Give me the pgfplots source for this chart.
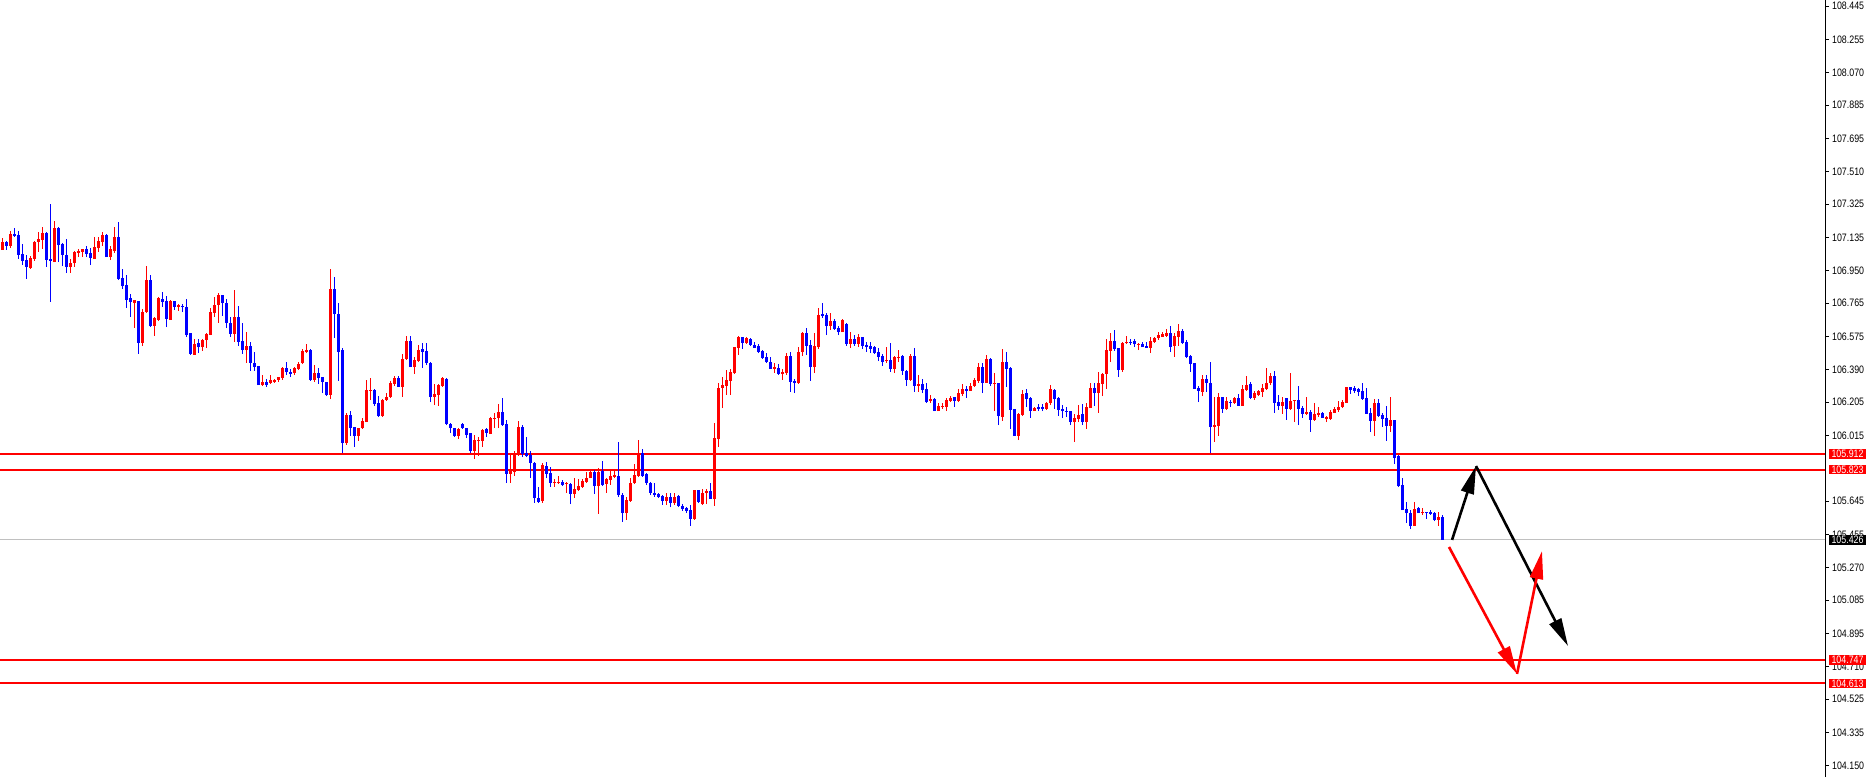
\documentclass[border=0pt]{standalone}
\usepackage{fontspec}
\usepackage{pgfplots}
\usepackage{pgfplotstable}
\pgfplotsset{compat=1.18}
\usetikzlibrary{arrows.meta}
\newfontfamily\tickfont{Liberation Sans}[FakeStretch=0.82]
\newcommand\pricefont{\tickfont\fontsize{5.4}{6}\selectfont}

% candles: i open high low close, one table per colour
\pgfplotstableread{
i o h l c
0 107.065 107.133 107.065 107.110
2 107.088 107.173 107.076 107.156
7 106.963 107.031 106.958 107.020
8 107.014 107.116 107.003 107.110
9 107.110 107.167 107.054 107.127
10 107.122 107.195 107.071 107.161
13 106.997 107.229 106.997 107.190
17 106.969 107.014 106.935 106.991
18 106.991 107.059 106.969 107.054
19 107.048 107.071 107.025 107.059
20 107.054 107.071 107.025 107.071
23 107.014 107.139 107.014 107.082
24 107.076 107.139 107.054 107.116
25 107.110 107.167 107.088 107.150
27 107.025 107.088 107.008 107.071
28 107.059 107.195 107.048 107.139
33 106.765 106.782 106.624 106.782
35 106.539 106.731 106.522 106.714
36 106.714 106.974 106.709 106.895
38 106.635 106.686 106.579 106.680
39 106.669 106.799 106.663 106.794
42 106.669 106.782 106.669 106.777
44 106.743 106.760 106.720 106.754
48 106.471 106.562 106.471 106.533
50 106.516 106.562 106.494 106.556
51 106.556 106.596 106.511 106.590
52 106.584 106.737 106.584 106.714
53 106.709 106.799 106.686 106.754
54 106.754 106.822 106.652 106.810
58 106.590 106.839 106.545 106.686
61 106.499 106.601 106.426 106.522
65 106.301 106.358 106.296 106.318
67 106.313 106.358 106.307 106.330
68 106.318 106.335 106.313 106.330
69 106.330 106.347 106.318 106.347
70 106.341 106.403 106.330 106.398
73 106.369 106.403 106.358 106.398
74 106.392 106.431 106.386 106.420
75 106.426 106.505 106.420 106.494
76 106.488 106.533 106.482 106.499
78 106.330 106.415 106.318 106.369
82 106.245 106.958 106.222 106.844
86 105.973 106.143 105.962 106.132
89 106.013 106.058 105.985 106.058
90 106.058 106.115 106.053 106.098
91 106.092 106.330 106.092 106.273
92 106.268 106.341 106.217 106.273
95 106.126 106.222 106.121 106.217
96 106.217 106.256 106.211 106.234
97 106.234 106.324 106.228 106.313
98 106.307 106.352 106.296 106.341
100 106.290 106.477 106.234 106.448
101 106.448 106.579 106.443 106.550
103 106.403 106.460 106.364 106.443
104 106.437 106.528 106.431 106.499
108 106.234 106.307 106.188 106.251
109 106.245 106.307 106.183 106.301
110 106.296 106.347 106.290 106.341
114 106.013 106.058 105.996 106.053
118 105.928 106.019 105.883 105.990
119 105.985 106.008 105.900 105.990
120 105.985 106.053 105.951 106.047
122 106.024 106.121 106.024 106.115
123 106.109 106.143 106.058 106.115
124 106.115 106.194 106.058 106.149
127 105.798 105.917 105.747 105.815
128 105.809 105.928 105.787 105.911
129 105.911 106.098 105.900 106.064
135 105.645 105.860 105.634 105.849
138 105.747 105.770 105.725 105.753
139 105.747 105.787 105.742 105.753
141 105.742 105.753 105.691 105.747
143 105.685 105.775 105.662 105.713
144 105.708 105.770 105.702 105.730
145 105.725 105.770 105.719 105.758
146 105.753 105.809 105.747 105.775
147 105.775 105.821 105.775 105.809
149 105.730 105.832 105.572 105.809
151 105.742 105.775 105.691 105.770
152 105.764 105.826 105.736 105.787
153 105.781 105.826 105.775 105.792
156 105.577 105.668 105.538 105.651
157 105.645 105.775 105.640 105.747
158 105.747 105.855 105.742 105.792
159 105.787 105.990 105.781 105.917
166 105.645 105.691 105.623 105.668
168 105.634 105.691 105.623 105.668
173 105.544 105.708 105.538 105.708
175 105.628 105.713 105.623 105.691
176 105.691 105.713 105.628 105.702
178 105.657 106.087 105.617 106.002
179 105.996 106.313 105.951 106.285
180 106.285 106.347 106.171 106.301
181 106.296 106.386 106.245 106.330
182 106.324 106.392 106.245 106.375
183 106.369 106.516 106.364 106.516
184 106.511 106.579 106.471 106.573
186 106.539 106.573 106.533 106.567
193 106.392 106.426 106.369 106.403
195 106.364 106.392 106.330 106.375
196 106.369 106.482 106.358 106.465
199 106.313 106.516 106.307 106.488
200 106.488 106.601 106.465 106.596
203 106.403 106.596 106.369 106.522
204 106.516 106.737 106.505 106.697
207 106.635 106.709 106.613 106.663
210 106.601 106.675 106.601 106.669
212 106.533 106.601 106.511 106.562
214 106.533 106.590 106.516 106.573
221 106.437 106.516 106.426 106.443
223 106.392 106.465 106.369 106.460
224 106.454 106.499 106.431 106.460
227 106.330 106.477 106.324 106.465
229 106.296 106.358 106.262 106.307
232 106.211 106.245 106.200 106.222
234 106.154 106.200 106.154 106.183
235 106.177 106.200 106.166 106.183
236 106.177 106.228 106.154 106.217
237 106.211 106.239 106.205 106.228
239 106.211 106.279 106.205 106.256
240 106.251 106.307 106.239 106.279
242 106.268 106.313 106.268 106.296
243 106.296 106.341 106.290 106.330
244 106.324 106.426 106.313 106.403
246 106.313 106.471 106.313 106.448
248 106.307 106.369 106.154 106.313
250 106.121 106.505 106.098 106.431
254 106.013 106.143 105.990 106.138
255 106.132 106.273 106.126 106.251
258 106.154 106.177 106.154 106.171
261 106.166 106.205 106.160 106.200
262 106.200 106.301 106.188 106.279
268 106.092 106.138 105.979 106.115
269 106.109 106.188 106.092 106.132
271 106.092 106.200 106.053 106.177
272 106.171 106.313 106.171 106.285
274 106.256 106.375 106.143 106.313
275 106.307 106.369 106.239 106.364
276 106.364 106.562 106.279 106.499
277 106.494 106.596 106.431 106.550
280 106.386 106.545 106.375 106.539
281 106.539 106.579 106.533 106.545
284 106.528 106.539 106.499 106.533
287 106.511 106.573 106.482 106.550
288 106.545 106.573 106.539 106.567
289 106.567 106.601 106.556 106.584
290 106.573 106.601 106.573 106.590
291 106.579 106.618 106.573 106.596
293 106.522 106.596 106.460 106.579
294 106.573 106.646 106.522 106.607
300 106.262 106.358 106.239 106.335
303 106.064 106.234 105.979 106.075
304 106.070 106.256 106.013 106.234
306 106.166 106.234 106.160 106.211
308 106.200 106.234 106.194 106.228
310 106.183 106.301 106.183 106.279
311 106.273 106.352 106.268 106.301
313 106.228 106.268 106.217 106.256
314 106.245 106.273 106.239 106.268
315 106.262 106.307 106.234 106.285
316 106.279 106.398 106.273 106.313
317 106.313 106.369 106.301 106.352
320 106.183 106.234 106.138 106.205
322 106.166 106.369 106.160 106.211
323 106.211 106.217 106.092 106.217
326 106.138 106.234 106.132 106.149
328 106.104 106.200 106.098 106.138
329 106.132 106.177 106.121 106.143
331 106.109 106.126 106.092 106.121
332 106.109 106.160 106.104 106.149
333 106.143 106.177 106.143 106.166
334 106.160 106.211 106.149 106.177
335 106.177 106.217 106.171 106.205
336 106.200 106.290 106.200 106.290
343 106.098 106.222 106.013 106.200
347 106.070 106.234 106.036 106.104
353 105.504 105.640 105.504 105.600
355 105.577 105.606 105.566 105.583
359 105.538 105.583 105.504 105.555
}\upc

\pgfplotstableread{
i o h l c
1 107.110 107.116 107.065 107.088
3 107.156 107.190 107.139 107.144
4 107.150 107.173 107.014 107.037
5 107.042 107.099 106.980 107.003
6 107.008 107.037 106.901 106.969
11 107.161 107.167 106.969 107.008
12 107.014 107.325 106.771 107.003
14 107.190 107.195 106.997 107.093
15 107.099 107.105 106.974 107.037
16 107.037 107.127 106.935 106.969
21 107.071 107.088 107.025 107.042
22 107.048 107.076 106.980 107.020
26 107.150 107.156 107.025 107.025
29 107.139 107.223 106.895 106.901
30 106.907 106.958 106.844 106.861
31 106.867 106.924 106.737 106.782
32 106.794 106.816 106.686 106.771
34 106.777 106.777 106.477 106.539
37 106.895 106.924 106.629 106.635
40 106.788 106.827 106.743 106.771
41 106.777 106.805 106.629 106.675
43 106.777 106.777 106.726 106.743
45 106.748 106.760 106.714 106.743
46 106.743 106.788 106.573 106.584
47 106.596 106.596 106.471 106.477
49 106.539 106.562 106.482 106.516
55 106.810 106.810 106.692 106.765
56 106.765 106.788 106.624 106.652
57 106.652 106.686 106.573 106.590
59 106.686 106.748 106.522 106.545
60 106.550 106.652 106.477 106.499
62 106.522 106.545 106.381 106.426
63 106.426 106.488 106.381 106.403
64 106.409 106.409 106.301 106.301
66 106.318 106.335 106.290 106.301
71 106.398 106.431 106.358 106.375
72 106.375 106.392 106.347 106.364
77 106.499 106.505 106.324 106.330
79 106.369 106.398 106.307 106.341
80 106.347 106.347 106.256 106.318
81 106.318 106.318 106.239 106.245
83 106.844 106.912 106.567 106.703
84 106.703 106.765 106.324 106.488
85 106.499 106.511 105.917 105.973
87 106.132 106.154 106.013 106.058
88 106.064 106.064 105.951 106.013
93 106.273 106.279 106.183 106.194
94 106.200 106.239 106.121 106.126
99 106.341 106.352 106.290 106.290
102 106.550 106.579 106.403 106.403
105 106.505 106.539 106.398 106.488
106 106.494 106.539 106.415 106.426
107 106.426 106.431 106.205 106.234
111 106.335 106.341 106.075 106.081
112 106.081 106.087 106.030 106.058
113 106.058 106.058 106.008 106.013
115 106.081 106.087 106.053 106.058
116 106.058 106.058 106.002 106.019
117 106.030 106.030 105.917 105.928
121 106.053 106.058 106.008 106.030
125 106.149 106.228 106.070 106.075
126 106.081 106.104 105.747 105.798
130 106.064 106.075 105.894 105.911
131 105.917 106.008 105.894 105.900
132 105.906 105.928 105.775 105.860
133 105.860 105.866 105.634 105.662
134 105.662 105.725 105.634 105.640
136 105.843 105.866 105.775 105.798
137 105.804 105.838 105.725 105.747
140 105.753 105.764 105.730 105.736
142 105.742 105.747 105.628 105.685
148 105.809 105.821 105.685 105.730
150 105.815 105.872 105.730 105.736
154 105.787 105.979 105.668 105.679
155 105.679 105.691 105.527 105.577
160 105.917 105.940 105.781 105.787
161 105.798 105.804 105.736 105.747
162 105.747 105.753 105.679 105.691
163 105.691 105.747 105.668 105.679
164 105.685 105.691 105.662 105.668
165 105.674 105.679 105.623 105.645
167 105.668 105.691 105.611 105.634
169 105.674 105.679 105.611 105.617
170 105.617 105.628 105.589 105.600
171 105.606 105.611 105.577 105.589
172 105.594 105.623 105.504 105.544
174 105.708 105.708 105.634 105.640
177 105.702 105.747 105.657 105.657
185 106.573 106.573 106.505 106.539
187 106.562 106.567 106.522 106.528
188 106.528 106.545 106.511 106.511
189 106.522 106.533 106.482 106.488
190 106.494 106.499 106.448 106.454
191 106.460 106.482 106.426 106.431
192 106.431 106.460 106.392 106.392
194 106.398 106.420 106.358 106.364
197 106.465 106.488 106.262 106.318
198 106.324 106.335 106.256 106.313
201 106.596 106.624 106.471 106.522
202 106.528 106.556 106.324 106.403
205 106.703 106.765 106.680 106.692
206 106.697 106.709 106.584 106.635
208 106.663 106.675 106.613 106.618
209 106.624 106.635 106.584 106.601
211 106.646 106.652 106.522 106.533
213 106.562 106.584 106.522 106.533
215 106.573 106.573 106.505 106.522
216 106.528 106.545 106.488 106.516
217 106.522 106.545 106.482 106.505
218 106.516 106.522 106.477 106.482
219 106.488 106.511 106.437 106.460
220 106.465 106.477 106.409 106.431
222 106.443 106.539 106.375 106.392
225 106.465 106.471 106.358 106.381
226 106.381 106.386 106.296 106.330
228 106.465 106.511 106.262 106.296
230 106.307 106.335 106.256 106.273
231 106.279 106.313 106.200 106.205
233 106.222 106.228 106.154 106.154
238 106.234 106.234 106.177 106.211
241 106.279 106.296 106.228 106.268
245 106.403 106.426 106.256 106.313
247 106.448 106.454 106.296 106.307
249 106.313 106.313 106.075 106.126
251 106.431 106.488 106.290 106.392
252 106.398 106.403 106.053 106.160
253 106.166 106.166 106.013 106.013
256 106.256 106.279 106.177 106.222
257 106.228 106.234 106.115 106.154
259 106.177 106.194 106.154 106.166
260 106.177 106.194 106.154 106.166
263 106.273 106.279 106.166 106.222
264 106.228 106.234 106.126 106.160
265 106.166 106.188 106.115 106.154
266 106.154 106.177 106.121 106.149
267 106.154 106.154 106.075 106.092
270 106.138 106.194 106.075 106.092
273 106.285 106.313 106.183 106.256
278 106.550 106.613 106.494 106.505
279 106.511 106.511 106.347 106.386
282 106.545 106.562 106.528 106.539
283 106.550 106.562 106.516 106.533
285 106.533 106.545 106.516 106.516
286 106.522 106.545 106.511 106.511
292 106.596 106.635 106.488 106.516
295 106.607 106.618 106.533 106.539
296 106.545 106.556 106.454 106.460
297 106.465 106.471 106.375 106.420
298 106.426 106.426 106.279 106.279
299 106.285 106.296 106.205 106.268
301 106.335 106.358 106.262 106.313
302 106.313 106.431 105.917 106.064
305 106.234 106.234 106.143 106.166
307 106.205 106.217 106.177 106.200
309 106.228 106.251 106.183 106.183
312 106.307 106.318 106.222 106.228
318 106.352 106.381 106.143 106.200
319 106.205 106.245 106.160 106.183
321 106.228 106.228 106.104 106.166
324 106.217 106.296 106.075 106.166
325 106.171 106.183 106.115 106.138
327 106.149 106.160 106.036 106.104
330 106.143 106.149 106.115 106.115
337 106.290 106.290 106.251 106.273
338 106.285 106.296 106.256 106.268
339 106.279 106.285 106.239 106.262
340 106.268 106.313 106.217 106.222
341 106.228 106.285 106.138 106.138
342 106.143 106.171 106.036 106.098
344 106.200 106.222 106.121 106.126
345 106.132 106.143 106.064 106.109
346 106.115 106.183 105.985 106.070
348 106.104 106.104 105.855 105.889
349 105.900 105.906 105.725 105.730
350 105.736 105.775 105.594 105.594
351 105.600 105.640 105.521 105.577
352 105.577 105.594 105.487 105.504
354 105.606 105.611 105.577 105.577
356 105.583 105.583 105.544 105.577
357 105.583 105.594 105.566 105.572
358 105.577 105.583 105.532 105.538
360 105.555 105.566 105.426 105.426
}\downc

\tikzset{pricebox/.style={anchor=west, text=white, font=\pricefont,
  inner xsep=1pt, inner ysep=0pt, minimum height=4.85pt, minimum width=18.5pt, xshift=1.8pt}}
\pgfplotsset{candle/.style={draw=none, mark=none, forget plot,
  error bars/.cd, y dir=plus, y explicit, error mark=none,
  error bar style={line cap=butt, #1}}}

\begin{document}
\begin{tikzpicture}
\begin{axis}[
  width=912.5pt, height=388.5pt, scale only axis,
  xmin=-0.5, xmax=455.75,
  ymin=104.084, ymax=108.479,
  axis x line=none,
  axis y line=right,
  axis line style={-, line width=0.5pt},
  tick align=outside,
  major tick length=2pt,
  ytick style={line width=0.5pt, black},
  ytick={104.150,104.335,104.525,104.710,104.895,105.085,105.270,105.455,105.645,106.015,106.205,106.390,106.575,106.765,106.950,107.135,107.325,107.510,107.695,107.885,108.070,108.255,108.445},
  yticklabels={104.150,104.335,104.525,104.710,104.895,105.085,105.270,105.455,105.645,106.015,106.205,106.390,106.575,106.765,106.950,107.135,107.325,107.510,107.695,107.885,108.070,108.255,108.445},
  yticklabel style={font=\pricefont, anchor=west, xshift=-2pt},
  clip=false,
]
% current price and support lines
\addplot[color={rgb,255:red,192;green,192;blue,192}, line width=0.5pt] coordinates {(-0.5,105.426) (455.75,105.426)};
\addplot[red, line width=1pt] coordinates {(-0.5,105.912) (455.75,105.912)};
\addplot[red, line width=1pt] coordinates {(-0.5,105.823) (455.75,105.823)};
\addplot[red, line width=1pt] coordinates {(-0.5,104.747) (455.75,104.747)};
\addplot[red, line width=1pt] coordinates {(-0.5,104.613) (455.75,104.613)};

% wicks
\addplot[candle={draw=red, line width=0.5pt}]
  table[x=i, y=l, y error plus expr=\thisrow{h}-\thisrow{l}] {\upc};
\addplot[candle={draw=blue, line width=0.5pt}]
  table[x=i, y=l, y error plus expr=\thisrow{h}-\thisrow{l}] {\downc};
% bodies
\addplot[candle={draw=red, line width=1.5pt}]
  table[x=i, y=o, y error plus expr={max(\thisrow{c}-\thisrow{o},0.005)}] {\upc};
\addplot[candle={draw=blue, line width=1.5pt}]
  table[x=i, y=c, y error plus expr={max(\thisrow{o}-\thisrow{c},0.005)}] {\downc};

% forecast arrows
\addplot[black, line width=1.3pt, -{Triangle[length=14pt,width=6.5pt]}] coordinates {(362.5,105.425) (368.5,105.843)};
\addplot[black, line width=1.3pt, -{Triangle[length=14pt,width=6.5pt]}] coordinates {(368.5,105.843) (391.5,104.825)};
\addplot[red, line width=1.3pt, -{Triangle[length=14pt,width=6.5pt]}] coordinates {(361.75,105.385) (378.75,104.667)};
\addplot[red, line width=1.3pt, -{Triangle[length=14pt,width=6.5pt]}] coordinates {(378.75,104.667) (385,105.362)};

\coordinate (p1) at (axis cs:455.75,105.912);
\coordinate (p2) at (axis cs:455.75,105.823);
\coordinate (p3) at (axis cs:455.75,105.426);
\coordinate (p4) at (axis cs:455.75,104.747);
\coordinate (p5) at (axis cs:455.75,104.613);
\end{axis}
\node[pricebox, fill=red] at (p1) {105.912};
\node[pricebox, fill=red] at (p2) {105.823};
\node[pricebox, fill=black] at (p3) {105.426};
\node[pricebox, fill=red] at (p4) {104.747};
\node[pricebox, fill=red] at (p5) {104.613};
\pgfresetboundingbox
\path (current axis.south west) rectangle ++(933pt,388.5pt);
\end{tikzpicture}
\end{document}
